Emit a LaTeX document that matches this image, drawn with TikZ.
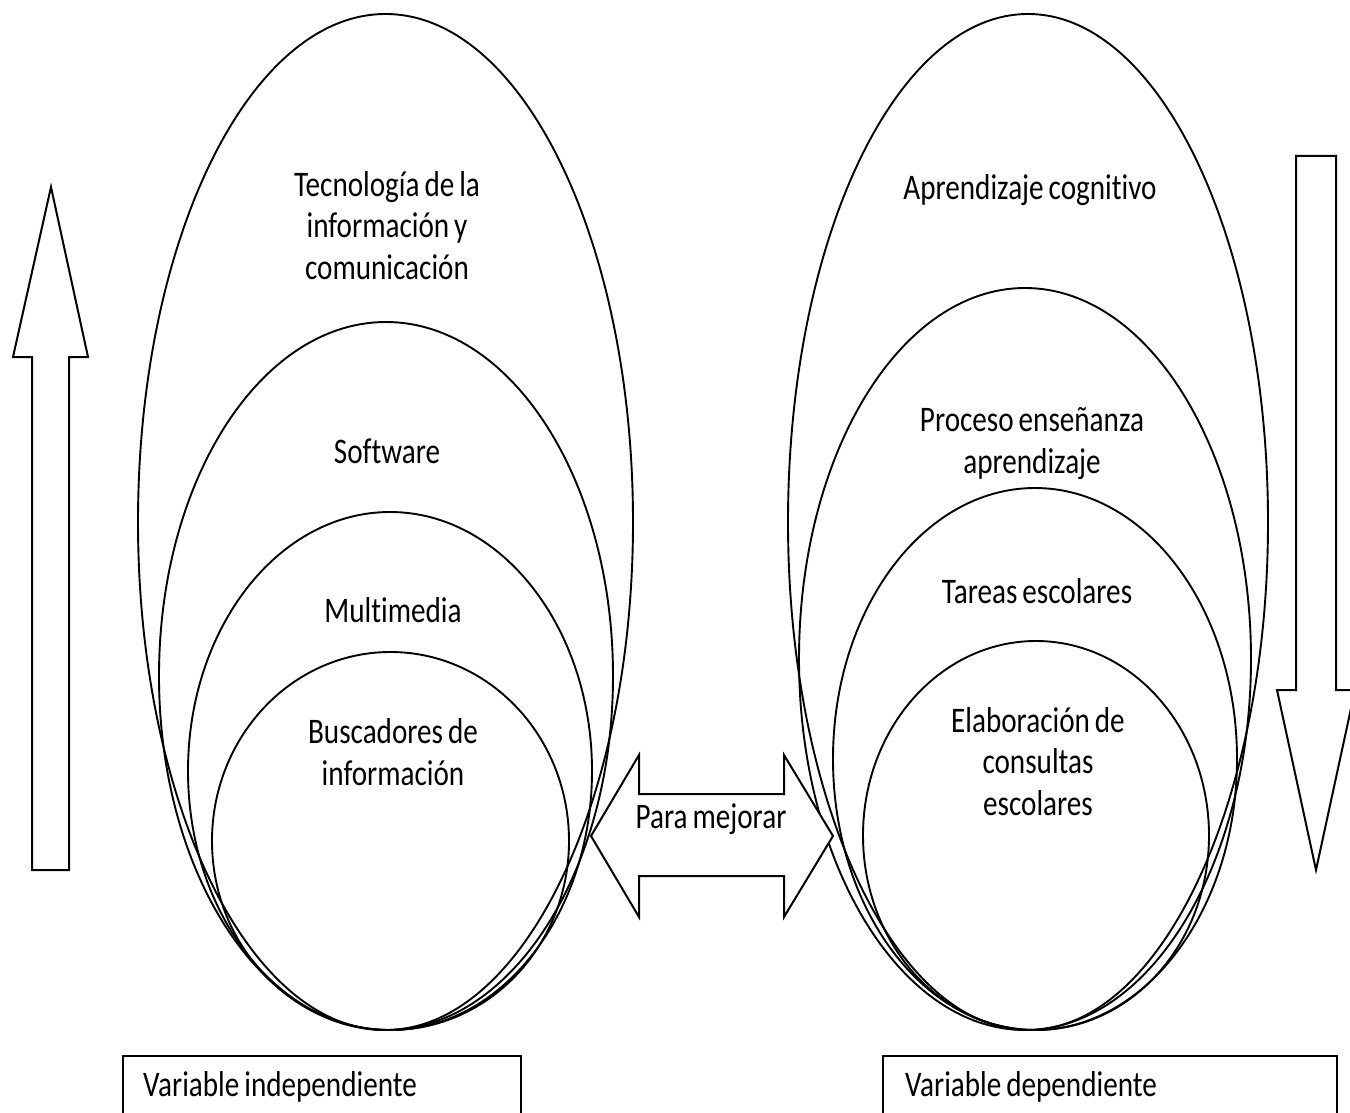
\documentclass[tikz,border=0pt]{standalone}
\usepackage{fontspec}
\setmainfont{Carlito}[FakeStretch=0.81,Ligatures={NoCommon},WordSpace=0.75]
\begin{document}
\begin{tikzpicture}[x=1pt,y=-1pt,
  oval/.style={draw=black,line width=1.9pt},
  blockarrow/.style={draw=black,line width=2pt,line join=miter,fill=white},
  frame/.style={draw=black,line width=2pt},
  lbl/.style={inner sep=0pt,align=center,anchor=base,font=\fontsize{36}{41.5}\selectfont},
  lbll/.style={inner sep=0pt,anchor=base west,font=\fontsize{36}{41.5}\selectfont}]
\useasboundingbox (0,0) rectangle (1350,1113);
\clip (0,0) rectangle (1350,1113);
% left ellipses
\draw[oval] (385.5,522) ellipse [x radius=247.5pt, y radius=508pt];
\draw[oval] (386,676) ellipse [x radius=227pt, y radius=354pt];
\draw[oval] (390,771) ellipse [x radius=202pt, y radius=259pt];
\draw[oval] (390.5,841) ellipse [x radius=178.5pt, y radius=189pt];
% right ellipses
\draw[oval] (1028,522) ellipse [x radius=240pt, y radius=508pt];
\draw[oval] (1025,659) ellipse [x radius=226pt, y radius=371pt];
\draw[oval] (1035,759) ellipse [x radius=202pt, y radius=271pt];
\draw[oval] (1036,835.5) ellipse [x radius=173pt, y radius=194.5pt];
% up arrow
\draw[blockarrow] (32,870) -- (32,357) -- (13,357) -- (51,187) -- (88,357) -- (69,357) -- (69,870) -- cycle;
% down arrow
\draw[blockarrow] (1296,156) -- (1336,156) -- (1336,690) -- (1355,690) -- (1316,870) -- (1277,690) -- (1296,690) -- cycle;
% double arrow
\draw[blockarrow] (591,836) -- (639,755) -- (639,794) -- (784,794) -- (784,755) -- (833,836) -- (784,917) -- (784,876) -- (639,876) -- (639,917) -- cycle;
% bottom boxes
\draw[frame] (123,1130) -- (123,1056) -- (521,1056) -- (521,1130);
\draw[frame] (883,1130) -- (883,1056) -- (1337,1056) -- (1337,1130);
% labels (base anchor = baseline of the last line)
\node[lbl] (tic) at (387,279) {Tecnología de la\\información y\\comunicación};
\node[lbl] (soft) at (387,463) {Software};
\node[lbl] (multi) at (393,622) {Multimedia};
\node[lbl] (busc) at (393,785) {Buscadores de\\información};
\node[lbl] (aprcog) at (1030,200) {Aprendizaje cognitivo};
\node[lbl] (proc) at (1032,473) {Proceso enseñanza\\aprendizaje};
\node[lbl] (tareas) at (1037,603) {Tareas escolares};
\node[lbl] (elab) at (1038,815) {Elaboración de\\consultas\\escolares};
\node[lbl] (para) at (711,828) {Para mejorar};
\node[lbll] (varind) at (143,1096) {Variable independiente};
\node[lbll] (vardep) at (905,1096) {Variable dependiente};
\end{tikzpicture}
\end{document}
